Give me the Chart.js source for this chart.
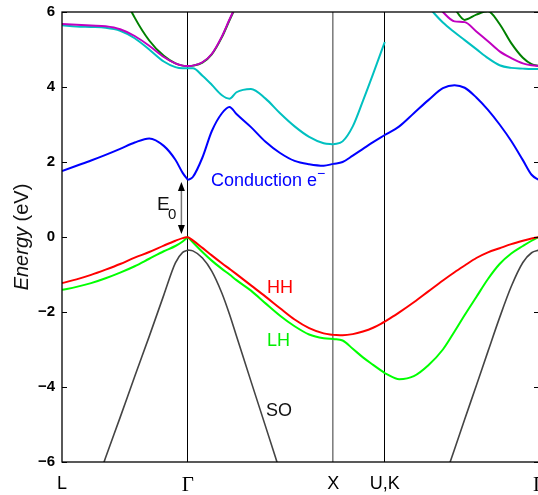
<!DOCTYPE html>
<html>
<head>
<meta charset="utf-8">
<script src="https://cdn.jsdelivr.net/npm/chart.js@4/dist/chart.umd.min.js"></script>
<style>
  html, body { margin: 0; padding: 0; background: #fff; overflow: hidden; }
  #wrap { width: 538px; height: 495px; overflow: hidden; }
</style>
</head>
<body>
<div id="wrap"><canvas id="bandChart" width="542" height="495"></canvas></div>
<script>
// high symmetry points (units of 2pi/a)
const kPointPos = [0, 0.866, 1.866, 2.22, 3.281];
const kPointNames = ['L', 'Γ', 'X', 'U,K', 'Γ'];
const energyTicks = [-6, -4, -2, 0, 2, 4, 6];

// k path, null = break between segments (L-Γ | Γ-X | X-U | K-Γ)
const kPath = [
  0, 0.1, 0.2, 0.3, 0.4, 0.5, 0.6, 0.7, 0.78, 0.83, 0.866, null,
  0.866, 0.9, 0.966, 1.03, 1.1, 1.152, 1.2, 1.3, 1.4, 1.5, 1.6, 1.7, 1.8, 1.866, null,
  1.866, 1.93, 2.0, 2.07, 2.14, 2.22, null,
  2.22, 2.32, 2.42, 2.52, 2.62, 2.7, 2.77, 2.85, 2.93, 3.01, 3.09, 3.17, 3.23, 3.281
];

const conduction = [
  1.76, 1.9, 2.04, 2.19, 2.35, 2.52, 2.63, 2.43, 2.06, 1.71, 1.52, null,
  1.52, 1.6, 2.12, 2.82, 3.3, 3.47, 3.28, 2.93, 2.54, 2.24, 2.03, 1.94, 1.9, 1.95, null,
  1.95, 2.0, 2.17, 2.35, 2.53, 2.72, null,
  2.72, 2.95, 3.3, 3.65, 3.97, 4.05, 3.98, 3.72, 3.39, 3.0, 2.56, 2.05, 1.66, 1.52
];
const cyanBand = [
  5.65, 5.61, 5.6, 5.58, 5.5, 5.3, 5.0, 4.68, 4.53, 4.5, 4.5, null,
  4.5, 4.5, 4.3, 4.06, 3.78, 3.69, 3.86, 3.95, 3.69, 3.3, 2.95, 2.67, 2.5, 2.47, null,
  2.47, 2.55, 2.95, 3.63, 4.35, 5.2, null,
  7.3, 6.9, 6.5, 6.13, 5.72, 5.46, 5.25, 5.01, 4.77, 4.58, 4.51, 4.49, 4.48, 4.48
];
const magentaBand = [
  5.68, 5.66, 5.64, 5.62, 5.54, 5.36, 5.1, 4.8, 4.63, 4.57, 4.56, null,
  4.56, 4.57, 4.66, 4.88, 5.35, 5.8, 6.2, 7.0, null, null, null, null, null, null, null,
  null, null, null, null, null, null, null,
  7.9, 7.4, 6.9, 6.45, 6.0, 5.75, 5.73, 5.48, 5.22, 4.95, 4.77, 4.63, 4.58, 4.56
];
const greenBand = [
  null, null, null, 7.6, 6.64, 5.85, 5.24, 4.83, 4.63, 4.57, 4.56, null,
  4.56, 4.57, 4.65, 4.87, 5.33, 5.78, 6.18, 7.0, null, null, null, null, null, null, null,
  null, null, null, null, null, null, null,
  null, null, null, null, 6.6, 6.1, 5.79, 5.93, 6.02, 5.68, 5.17, 4.78, 4.61, 4.56
];
const heavyHole = [
  -1.23, -1.13, -1.01, -0.87, -0.72, -0.55, -0.4, -0.23, -0.1, -0.03, 0, null,
  0, -0.09, -0.29, -0.49, -0.7, -0.85, -0.99, -1.29, -1.59, -1.9, -2.2, -2.43, -2.57, -2.61, null,
  -2.61, -2.62, -2.59, -2.52, -2.42, -2.26, null,
  -2.26, -2.01, -1.74, -1.45, -1.16, -0.94, -0.76, -0.56, -0.41, -0.3, -0.19, -0.1, -0.04, 0
];
const lightHole = [
  -1.41, -1.33, -1.23, -1.1, -0.95, -0.78, -0.58, -0.38, -0.24, -0.12, 0, null,
  0, -0.14, -0.4, -0.63, -0.85, -1.0, -1.15, -1.43, -1.77, -2.1, -2.38, -2.6, -2.7, -2.72, null,
  -2.72, -2.76, -2.98, -3.21, -3.41, -3.63, null,
  -3.63, -3.79, -3.71, -3.42, -3.0, -2.52, -2.08, -1.6, -1.12, -0.72, -0.44, -0.24, -0.1, 0
];
const splitOff = [
  null, null, -7.0, -5.88, -4.81, -3.72, -2.65, -1.55, -0.69, -0.41, -0.35, null,
  -0.35, -0.37, -0.56, -0.91, -1.5, -2.06, -2.64, -3.85, -5.05, -6.26, -7.47, null, null, null, null,
  null, null, null, null, null, null, null,
  null, null, null, null, -6.56, -5.66, -4.86, -3.96, -3.05, -2.15, -1.32, -0.68, -0.42, -0.35
];

function toPoints(band) {
  let pts = [];
  kPath.forEach((k, i) => {
    if (k === null) {
      pts.push({x: kPath[i - 1], y: null});
    } else {
      pts.push({x: k, y: band[i]});
    }
  });
  return pts;
}

function bandSet(band, color, width) {
  return {
    data: toPoints(band),
    borderColor: color,
    borderWidth: width,
    pointRadius: 0,
    cubicInterpolationMode: 'monotone',
    spanGaps: false,
    clip: 0
  };
}

const decorPlugin = {
  id: 'decor',
  afterDatasetsDraw(chart) {
    const ctx = chart.ctx;
    const a = chart.chartArea;
    const yScale = chart.scales.y;
    const xScale = chart.scales.x;
    ctx.save();

    // frame and inward ticks
    ctx.strokeStyle = '#000';
    ctx.lineWidth = 1.3;
    ctx.strokeRect(a.left, a.top, a.right - a.left, a.bottom - a.top);
    ctx.lineWidth = 1;
    energyTicks.forEach(v => {
      let py = Math.round(yScale.getPixelForValue(v)) + 0.5;
      ctx.beginPath();
      ctx.moveTo(a.left, py);
      ctx.lineTo(a.left + 5, py);
      ctx.moveTo(a.right - 5, py);
      ctx.lineTo(a.right, py);
      ctx.stroke();
    });

    // E0 arrow
    let ax = xScale.getPixelForValue(kPointPos[1]) - 6.5;
    let top = yScale.getPixelForValue(1.47);
    let bot = yScale.getPixelForValue(0.08);
    ctx.strokeStyle = '#777';
    ctx.lineWidth = 1.5;
    ctx.beginPath();
    ctx.moveTo(ax, top + 6);
    ctx.lineTo(ax, bot - 6);
    ctx.stroke();
    ctx.fillStyle = '#000';
    ctx.beginPath();
    ctx.moveTo(ax, top);
    ctx.lineTo(ax - 3.5, top + 9);
    ctx.lineTo(ax + 3.5, top + 9);
    ctx.closePath();
    ctx.fill();
    ctx.beginPath();
    ctx.moveTo(ax, bot);
    ctx.lineTo(ax - 3.5, bot - 9);
    ctx.lineTo(ax + 3.5, bot - 9);
    ctx.closePath();
    ctx.fill();

    // labels
    ctx.textBaseline = 'alphabetic';
    ctx.textAlign = 'left';
    ctx.font = '19px "Liberation Sans", Arial, sans-serif';
    ctx.fillStyle = '#111';
    ctx.fillText('E', 157, 210);
    ctx.font = '15px "Liberation Sans", Arial, sans-serif';
    ctx.fillText('0', 168, 219);

    ctx.font = '18px "Liberation Sans", Arial, sans-serif';
    ctx.fillStyle = '#0000ff';
    ctx.fillText('Conduction e', 211, 186);
    let w = ctx.measureText('Conduction e').width;
    ctx.font = '14px "Liberation Sans", Arial, sans-serif';
    ctx.fillText('−', 211 + w, 178);

    ctx.font = '18px "Liberation Sans", Arial, sans-serif';
    ctx.fillStyle = '#ff0000';
    ctx.fillText('HH', 267, 293);
    ctx.fillStyle = '#00ee00';
    ctx.fillText('LH', 267, 346);
    ctx.fillStyle = '#111';
    ctx.fillText('SO', 266, 416);

    // y axis title, "Energy" in italics
    ctx.translate(28, yScale.getPixelForValue(0));
    ctx.rotate(-Math.PI / 2);
    ctx.font = 'italic 20px "Liberation Sans", Arial, sans-serif';
    let w1 = ctx.measureText('Energy').width;
    ctx.font = '20px "Liberation Sans", Arial, sans-serif';
    let w2 = ctx.measureText(' (eV)').width;
    let sx = -(w1 + w2) / 2;
    ctx.font = 'italic 20px "Liberation Sans", Arial, sans-serif';
    ctx.fillText('Energy', sx, 0);
    ctx.font = '20px "Liberation Sans", Arial, sans-serif';
    ctx.fillText(' (eV)', sx + w1, 0);
    ctx.restore();
  }
};

let ctx = document.getElementById('bandChart').getContext('2d');
let bandChart = new Chart(ctx, {
  type: 'line',
  data: {
    datasets: [
      bandSet(magentaBand, '#c000c0', 2),
      bandSet(greenBand, '#008000', 2),
      bandSet(cyanBand, '#00c0c0', 2),
      bandSet(conduction, '#0000ff', 2),
      bandSet(heavyHole, '#ff0000', 2),
      bandSet(lightHole, '#00ff00', 2),
      bandSet(splitOff, '#444444', 1.6)
    ]
  },
  options: {
    responsive: false,
    animation: false,
    devicePixelRatio: 1,
    layout: {
      autoPadding: false,
      padding: {left: 0, right: 3, top: 12, bottom: 0}
    },
    plugins: {
      legend: {display: false},
      tooltip: {enabled: false}
    },
    scales: {
      x: {
        type: 'linear',
        min: 0,
        max: kPointPos[4],
        afterBuildTicks: scale => {
          scale.ticks = kPointPos.map(v => ({value: v}));
        },
        afterFit: scale => {
          scale.height = 33;
          scale.paddingLeft = 0;
          scale.paddingRight = 0;
        },
        ticks: {
          autoSkip: false,
          maxRotation: 0,
          padding: 11,
          color: '#000',
          callback: (v, i) => kPointNames[i],
          font: c => (kPointNames[c.index] === 'Γ'
            ? {family: '"Liberation Serif", "DejaVu Serif", serif', size: 21}
            : {family: '"Liberation Sans", Arial, sans-serif', size: 18})
        },
        grid: {
          drawTicks: false,
          color: c => {
            if (c.index === 0 || c.index === 4) return 'rgba(0,0,0,0)';
            return c.index === 2 ? '#808080' : '#000';
          },
          lineWidth: c => (c.index === 2 ? 1.6 : 1)
        },
        border: {display: false}
      },
      y: {
        min: -6,
        max: 6,
        afterBuildTicks: scale => {
          scale.ticks = energyTicks.map(v => ({value: v}));
        },
        afterFit: scale => {
          scale.width = 62;
          scale.paddingTop = 0;
          scale.paddingBottom = 0;
        },
        ticks: {
          padding: 7,
          color: '#000',
          font: {family: '"Liberation Sans", Arial, sans-serif', size: 15, weight: 'bold'},
          callback: v => (v < 0 ? '−' + Math.abs(v) : String(v))
        },
        grid: {display: false, drawTicks: false},
        border: {display: false}
      }
    }
  },
  plugins: [decorPlugin]
});
</script>
</body>
</html>
